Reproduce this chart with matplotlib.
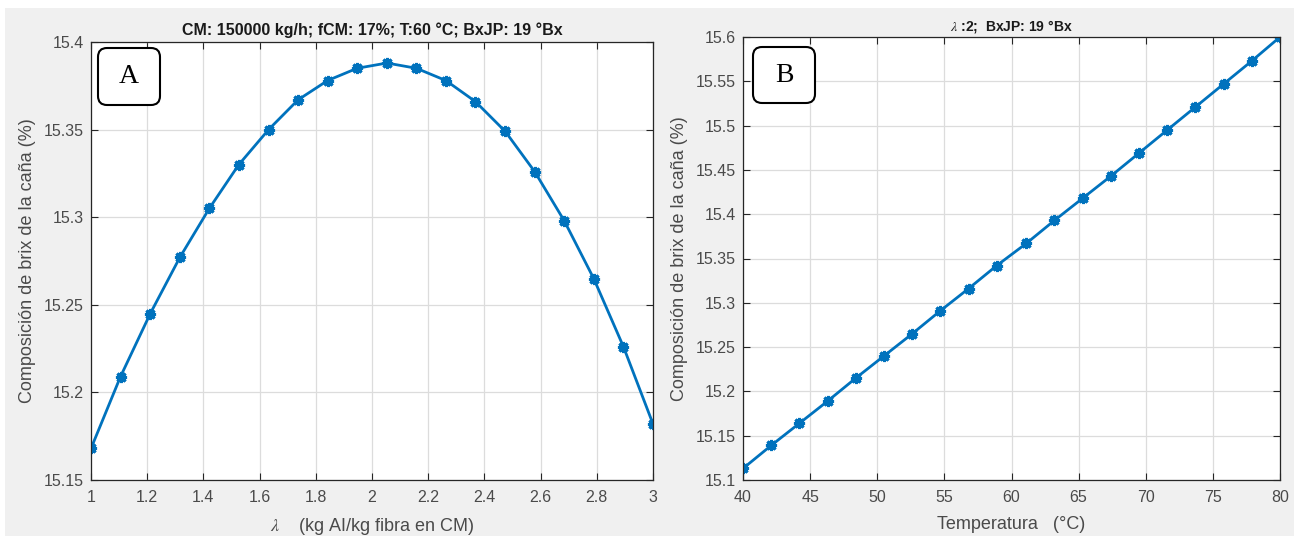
import matplotlib
matplotlib.use('Agg')
import numpy as np
import matplotlib.pyplot as plt
from matplotlib.patches import FancyBboxPatch, Rectangle
from matplotlib.transforms import IdentityTransform
from matplotlib.ticker import FuncFormatter

plt.rcParams['font.family'] = ['Liberation Sans', 'DejaVu Sans']
plt.rcParams['mathtext.fontset'] = 'stix'

# panel A: lambda sweep
lam = [1.0, 1.105, 1.211, 1.316, 1.421, 1.526, 1.632, 1.737, 1.842, 1.947,
       2.053, 2.158, 2.263, 2.368, 2.474, 2.579, 2.684, 2.789, 2.895, 3.0]
brix_a = [15.168, 15.209, 15.245, 15.277, 15.305, 15.330, 15.350, 15.367, 15.378, 15.385,
          15.388, 15.385, 15.378, 15.366, 15.349, 15.326, 15.298, 15.265, 15.226, 15.182]

# panel B: temperature sweep
temp = [40.0, 42.1, 44.2, 46.3, 48.4, 50.5, 52.6, 54.7, 56.8, 58.9,
        61.1, 63.2, 65.3, 67.4, 69.5, 71.6, 73.7, 75.8, 77.9, 80.0]
brix_b = [15.113, 15.139, 15.164, 15.189, 15.215, 15.240, 15.265, 15.291, 15.316, 15.342,
          15.367, 15.393, 15.418, 15.443, 15.469, 15.495, 15.521, 15.547, 15.573, 15.600]

W, H = 1294, 536
fig = plt.figure(figsize=(W/100, H/100), dpi=100, facecolor='white')
# gray matlab background
fig.add_artist(Rectangle((5, 0), W-5, H-8, transform=IdentityTransform(),
                         fc='#f0f0f0', ec='none', zorder=0))

blue = '#0072BD'
tcol = '#4a4a4a'
fmt = FuncFormatter(lambda v, p: '%g' % round(v, 4))

def style(ax):
    ax.set_facecolor('white')
    ax.grid(True, color='#dcdcdc', lw=0.9)
    ax.set_axisbelow(True)
    ax.tick_params(direction='in', length=5, top=True, right=True,
                   labelsize=11.5, colors='#262626', labelcolor=tcol, width=0.8)
    ax.tick_params(axis='x', pad=7)
    ax.tick_params(axis='y', pad=5)
    for s in ax.spines.values():
        s.set_color('#262626')
        s.set_linewidth(0.9)
    ax.xaxis.set_major_formatter(fmt)
    ax.yaxis.set_major_formatter(fmt)

axA = fig.add_axes([91/W, 1-480/H, 562/W, 438/H])
axA.plot(lam, brix_a, color=blue, lw=2, marker=(8, 2, 0), ms=8, mew=2.2)
axA.set_xlim(1, 3)
axA.set_ylim(15.15, 15.4)
axA.set_xticks(np.arange(1, 3.01, 0.2))
axA.set_yticks(np.arange(15.15, 15.401, 0.05))
style(axA)
axA.set_title('CM: 150000 kg/h; fCM: 17%; T:60 °C; BxJP: 19 °Bx',
              fontsize=11.5, fontweight='bold', color='#1a1a1a', pad=5)
axA.set_xlabel('$\\lambda$    (kg AI/kg fibra en CM)', fontsize=13, color=tcol, labelpad=8)
axA.set_ylabel('Composición de brix de la caña (%)', fontsize=13, color=tcol, labelpad=6)

axB = fig.add_axes([743/W, 1-480/H, 537/W, 443/H])
axB.plot(temp, brix_b, color=blue, lw=2, marker=(8, 2, 0), ms=8, mew=2.2)
axB.set_xlim(40, 80)
axB.set_ylim(15.1, 15.6)
axB.set_xticks(np.arange(40, 81, 5))
axB.set_yticks(np.arange(15.1, 15.601, 0.05))
style(axB)
axB.set_title('$\\lambda$ :2;  BxJP: 19 °Bx', fontsize=10, fontweight='bold',
              color='#1a1a1a', pad=5)
axB.set_xlabel('Temperatura   (°C)', fontsize=13, color=tcol, labelpad=8)
axB.set_ylabel('Composición de brix de la caña (%)', fontsize=13, color=tcol, labelpad=6)

# panel letter boxes
for (x0, y0, x1, y1, lab) in [(98, 48, 160, 105, 'A'), (753, 47, 815, 103, 'B')]:
    fig.add_artist(FancyBboxPatch((x0, H-y1), x1-x0, y1-y0,
                                  boxstyle='round,pad=0,rounding_size=9',
                                  transform=IdentityTransform(), fc='white',
                                  ec='black', lw=1.5, zorder=10))
    fig.text((x0+x1)/2/W, 1-(y0+y1)/2/H, lab, ha='center', va='center',
             fontsize=20, family='Liberation Serif', zorder=11)

fig.savefig('out.png', dpi=100, facecolor=fig.get_facecolor())
